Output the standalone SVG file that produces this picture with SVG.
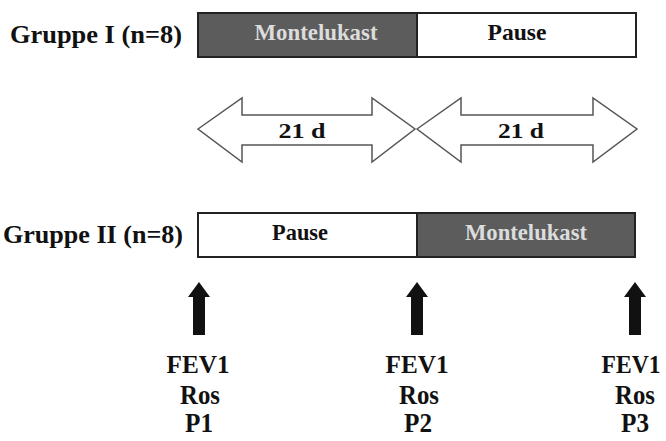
<svg xmlns="http://www.w3.org/2000/svg" width="666" height="441" viewBox="0 0 666 441">
<style>
text{font-family:"Liberation Serif","Times New Roman",serif;font-weight:bold}
.lab{font-size:26px;fill:#111}
.bar{font-size:23px;text-anchor:middle}
.dark{fill:#5c5c5c;stroke:#222;stroke-width:2}
.light{fill:#fff;stroke:#222;stroke-width:2}
.dtx{fill:#dcdcdc}
.ltx{fill:#111}
.dbl{fill:#fff;stroke:#555;stroke-width:1.5}
.mid{font-size:22px;text-anchor:middle;fill:#111}
.tp{font-size:27px;text-anchor:middle;fill:#111}
.fev{font-size:25px}
</style>
<g id="gruppe1">
<text class="lab" x="10" y="43" textLength="172" lengthAdjust="spacingAndGlyphs">Gruppe I (n=8)</text>
<rect class="dark" x="198" y="13" width="219" height="44"/>
<rect class="light" x="417" y="13" width="219" height="44"/>
<text class="bar dtx" x="316" y="40" textLength="123" lengthAdjust="spacingAndGlyphs">Montelukast</text>
<text class="bar ltx" x="517" y="40" textLength="59" lengthAdjust="spacingAndGlyphs">Pause</text>
</g>
<g id="period1">
<polygon class="dbl" points="198,129 242,98 242,115 372,115 372,98 415,129 372,162 372,145 242,145 242,162"/>
<text class="mid" x="302" y="138" textLength="47" lengthAdjust="spacingAndGlyphs">21 d</text>
</g>
<g id="period2">
<polygon class="dbl" points="417,129 461,98 461,115 593,115 593,98 637,129 593,162 593,145 461,145 461,162"/>
<text class="mid" x="521" y="138" textLength="46" lengthAdjust="spacingAndGlyphs">21 d</text>
</g>
<g id="gruppe2">
<text class="lab" x="3" y="243" textLength="180" lengthAdjust="spacingAndGlyphs">Gruppe II (n=8)</text>
<rect class="light" x="198" y="213" width="219" height="44"/>
<rect class="dark" x="417" y="213" width="218" height="44"/>
<text class="bar ltx" x="300" y="240" textLength="56" lengthAdjust="spacingAndGlyphs">Pause</text>
<text class="bar dtx" x="526" y="240" textLength="122" lengthAdjust="spacingAndGlyphs">Montelukast</text>
</g>
<g id="connectors">
<polygon fill="#111" points="199,282 210,297 205,297 205,335 193,335 193,297 188,297"/>
<polygon fill="#111" points="417,282 428,297 423,297 423,335 411,335 411,297 406,297"/>
<polygon fill="#111" points="635,282 646,297 641,297 641,335 629,335 629,297 624,297"/>
</g>
<g id="p1">
<text class="tp fev" x="198" y="373" textLength="63" lengthAdjust="spacingAndGlyphs">FEV1</text>
<text class="tp" x="200" y="404" textLength="40" lengthAdjust="spacingAndGlyphs">Ros</text>
<text class="tp" x="199" y="432" textLength="28" lengthAdjust="spacingAndGlyphs">P1</text>
</g>
<g id="p2">
<text class="tp fev" x="417" y="373" textLength="63" lengthAdjust="spacingAndGlyphs">FEV1</text>
<text class="tp" x="419" y="404" textLength="40" lengthAdjust="spacingAndGlyphs">Ros</text>
<text class="tp" x="418" y="432" textLength="28" lengthAdjust="spacingAndGlyphs">P2</text>
</g>
<g id="p3">
<text class="tp fev" x="631" y="373" textLength="59" lengthAdjust="spacingAndGlyphs">FEV1</text>
<text class="tp" x="635" y="404" textLength="40" lengthAdjust="spacingAndGlyphs">Ros</text>
<text class="tp" x="635" y="432" textLength="28" lengthAdjust="spacingAndGlyphs">P3</text>
</g>
</svg>
